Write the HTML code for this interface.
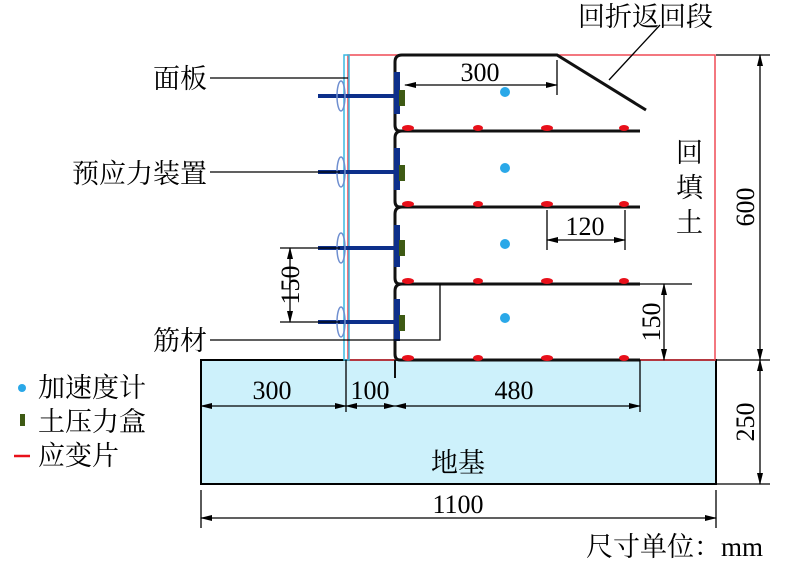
<!DOCTYPE html><html><head><meta charset="utf-8"><style>body{margin:0;background:#fff}svg{display:block}text{font-family:"Liberation Serif","Noto Serif CJK SC",serif;fill:#000}</style></head><body>
<svg width="787" height="564" viewBox="0 0 787 564" xmlns="http://www.w3.org/2000/svg">
<defs><marker id="a" markerWidth="12" markerHeight="8" refX="11" refY="4" orient="auto-start-reverse" markerUnits="userSpaceOnUse"><path d="M0,1 L12,4 L0,7 Z" fill="#000"/></marker></defs>
<rect x="201" y="360" width="515" height="124" fill="#cdf1fb" stroke="#000" stroke-width="2"/>
<rect x="348" y="55" width="367" height="305" fill="none" stroke="#ef4a55" stroke-width="1.5"/>
<rect x="344" y="55" width="5" height="305" fill="none" stroke="#3bb9e0" stroke-width="1.5"/>
<g fill="none" stroke="#111" stroke-width="3">
<path d="M640,131 H400 Q395,131 395,125 V62 Q395,55 402,55 H557 L646,110"/>
<path d="M640,207 H400 Q395,207 395,201 V138 Q395,131 402,131"/>
<path d="M640,284 H400 Q395,284 395,278 V214 Q395,207 402,207"/>
<path d="M640,360 H400 Q395,360 395,354 V291 Q395,284 402,284"/>
<path d="M395,360 V378" stroke-width="2"/>
</g>
<g stroke="#0d2f8a" stroke-width="4">
<line x1="318" y1="96" x2="395" y2="96"/><line x1="318" y1="172" x2="395" y2="172"/><line x1="318" y1="248" x2="395" y2="248"/><line x1="318" y1="322" x2="395" y2="322"/>
</g>
<g fill="#0d2f8a"><rect x="394" y="72" width="6" height="42"/><rect x="394" y="148" width="6" height="42"/><rect x="394" y="225" width="6" height="42"/><rect x="394" y="299" width="6" height="42"/></g>
<g fill="#3e5a14"><rect x="399" y="90" width="6" height="16"/><rect x="399" y="165" width="6" height="16"/><rect x="399" y="240" width="6" height="16"/><rect x="399" y="315" width="6" height="16"/></g>
<g fill="none" stroke="#6f8fd0" stroke-width="1.5"><ellipse cx="341" cy="96" rx="4" ry="15"/><ellipse cx="341" cy="172" rx="4" ry="15"/><ellipse cx="341" cy="248" rx="4" ry="15"/><ellipse cx="341" cy="322" rx="4" ry="15"/></g>
<g fill="#2aa8e8"><circle cx="505" cy="92" r="5"/><circle cx="505" cy="168" r="5"/><circle cx="505" cy="244" r="5"/><circle cx="505" cy="318" r="5"/></g>
<g fill="#e8101a">
<ellipse cx="408" cy="128" rx="6" ry="3"/><ellipse cx="478" cy="128" rx="5" ry="3"/><ellipse cx="547" cy="128" rx="6" ry="3"/><ellipse cx="624" cy="128" rx="5" ry="3"/>
<ellipse cx="408" cy="204" rx="6" ry="3"/><ellipse cx="478" cy="204" rx="5" ry="3"/><ellipse cx="547" cy="204" rx="6" ry="3"/><ellipse cx="624" cy="204" rx="5" ry="3"/>
<ellipse cx="408" cy="281" rx="6" ry="3"/><ellipse cx="478" cy="281" rx="5" ry="3"/><ellipse cx="547" cy="281" rx="6" ry="3"/><ellipse cx="624" cy="281" rx="5" ry="3"/>
<ellipse cx="408" cy="358" rx="6" ry="3"/><ellipse cx="478" cy="358" rx="5" ry="3"/><ellipse cx="547" cy="358" rx="6" ry="3"/><ellipse cx="624" cy="358" rx="5" ry="3"/>
</g>
<g stroke="#000" stroke-width="1.3" fill="none">
<line x1="210" y1="78" x2="348" y2="78"/><line x1="210" y1="172" x2="340" y2="172"/>
<path d="M210,340 H440 V284"/>
<line x1="609" y1="80" x2="660" y2="25"/>
<line x1="557" y1="60" x2="557" y2="95"/>
<line x1="405" y1="85" x2="557" y2="85" marker-start="url(#a)" marker-end="url(#a)"/>
<line x1="547" y1="210" x2="547" y2="250"/><line x1="625" y1="210" x2="625" y2="250"/>
<line x1="547" y1="240" x2="625" y2="240" marker-start="url(#a)" marker-end="url(#a)"/>
<line x1="640" y1="284" x2="692" y2="284"/>
<line x1="664" y1="284" x2="664" y2="360" marker-start="url(#a)" marker-end="url(#a)"/>
<line x1="280" y1="248" x2="340" y2="248"/><line x1="280" y1="322" x2="340" y2="322"/>
<line x1="290" y1="248" x2="290" y2="322" marker-start="url(#a)" marker-end="url(#a)"/>
<line x1="716" y1="55" x2="770" y2="55"/><line x1="716" y1="360" x2="770" y2="360"/><line x1="716" y1="484" x2="770" y2="484"/>
<line x1="760" y1="55" x2="760" y2="360" marker-start="url(#a)" marker-end="url(#a)"/>
<line x1="760" y1="360" x2="760" y2="484" marker-start="url(#a)" marker-end="url(#a)"/>
<line x1="346" y1="360" x2="346" y2="412"/><line x1="640" y1="360" x2="640" y2="412"/>
<line x1="201" y1="406" x2="346" y2="406" marker-start="url(#a)" marker-end="url(#a)"/>
<line x1="346" y1="406" x2="395" y2="406" marker-start="url(#a)" marker-end="url(#a)"/>
<line x1="395" y1="406" x2="640" y2="406" marker-start="url(#a)" marker-end="url(#a)"/>
<line x1="201" y1="490" x2="201" y2="528"/><line x1="716" y1="490" x2="716" y2="528"/>
<line x1="201" y1="518" x2="716" y2="518" marker-start="url(#a)" marker-end="url(#a)"/>
</g>
<g font-size="27">
<text x="207" y="88" text-anchor="end">面板</text>
<text x="207" y="183" text-anchor="end">预应力装置</text>
<text x="207" y="350" text-anchor="end">筋材</text>
<text x="578" y="26">回折返回段</text>
<text x="480" y="81" text-anchor="middle" font-size="26">300</text>
<text x="585" y="235" text-anchor="middle" font-size="26">120</text>
<text x="676" y="162">回</text><text x="676" y="197">填</text><text x="676" y="232">土</text>
<text x="272" y="399" text-anchor="middle" font-size="26">300</text><text x="370" y="399" text-anchor="middle" font-size="26">100</text><text x="514" y="399" text-anchor="middle" font-size="26">480</text>
<text x="458" y="472" text-anchor="middle">地基</text>
<text x="458" y="513" text-anchor="middle" font-size="26">1100</text>
<text x="763" y="556" text-anchor="end">尺寸单位：mm</text>
<text x="38" y="397">加速度计</text><text x="38" y="431">土压力盒</text><text x="38" y="465">应变片</text>
<text transform="translate(299,285) rotate(-90)" text-anchor="middle" font-size="26">150</text>
<text transform="translate(660,322) rotate(-90)" text-anchor="middle" font-size="26">150</text>
<text transform="translate(754,207) rotate(-90)" text-anchor="middle" font-size="26">600</text>
<text transform="translate(754,422) rotate(-90)" text-anchor="middle" font-size="26">250</text>
</g>
<circle cx="22" cy="388" r="4" fill="#2aa8e8"/>
<rect x="20" y="414" width="5" height="12" fill="#3e5a14"/>
<line x1="14" y1="456" x2="30" y2="456" stroke="#e8101a" stroke-width="2.5"/>
</svg></body></html>
